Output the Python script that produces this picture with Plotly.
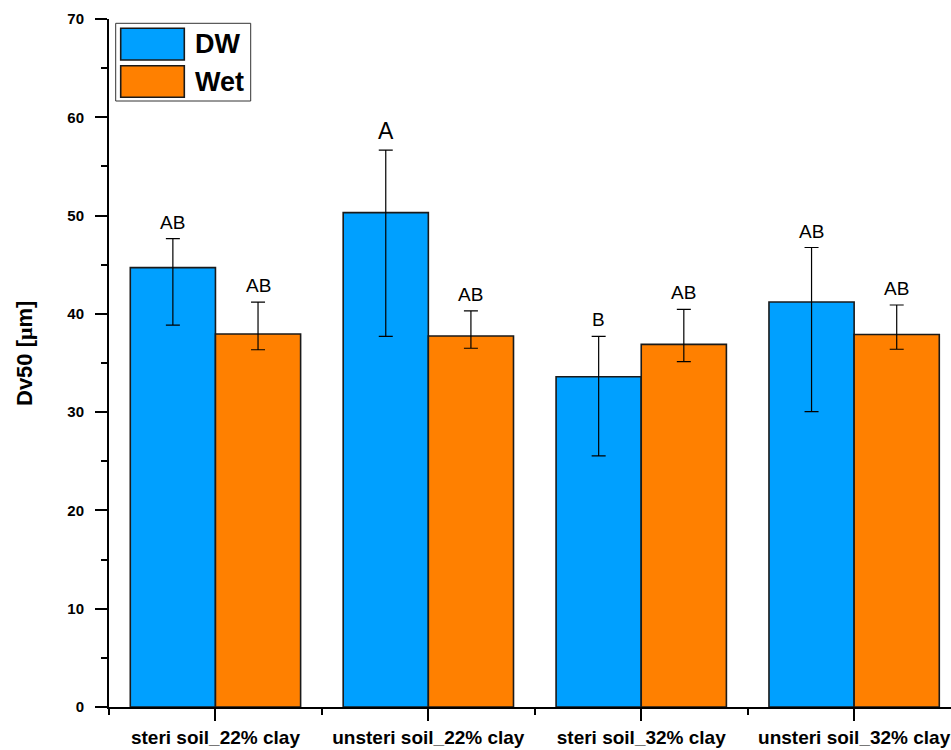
import plotly.graph_objects as go

# Dv50 grain size by soil treatment, dry-wet (DW) vs wet conditions
categories = ["steri soil_22% clay", "unsteri soil_22% clay",
              "steri soil_32% clay", "unsteri soil_32% clay"]

dw_mean = [44.7, 50.3, 33.6, 41.2]
dw_err_plus = [2.95, 6.35, 4.1, 5.55]
dw_err_minus = [5.85, 12.6, 8.05, 11.15]
dw_letters = ["AB", "A", "B", "AB"]

wet_mean = [37.95, 37.75, 36.9, 37.9]
wet_err_plus = [3.25, 2.55, 3.55, 3.0]
wet_err_minus = [1.6, 1.25, 1.75, 1.5]
wet_letters = ["AB", "AB", "AB", "AB"]

y_ticks = [0, 10, 20, 30, 40, 50, 60, 70]

BLUE = "#00A0FF"
ORANGE = "#FF8000"
FONT = "Arial, Liberation Sans, sans-serif"

W, H = 951, 750
M_L, M_R, M_T, M_B = 109, 0, 19, 43

x_idx = list(range(len(categories)))

fig = go.Figure()
for name, mean, ep, em, color in [
    ("DW", dw_mean, dw_err_plus, dw_err_minus, BLUE),
    ("Wet", wet_mean, wet_err_plus, wet_err_minus, ORANGE),
]:
    fig.add_trace(go.Bar(
        x=x_idx, y=mean, name=name,
        marker=dict(color=color, line=dict(color="#1a1a1a", width=1.6)),
        error_y=dict(type="data", symmetric=False, array=ep, arrayminus=em,
                     color="black", thickness=1.2, width=7),
        showlegend=False,
    ))

# significance letters above the error bars
bar_offset = 0.2
for i in x_idx:
    for shift, mean, ep, lab in [(-bar_offset, dw_mean[i], dw_err_plus[i], dw_letters[i]),
                                 (bar_offset, wet_mean[i], wet_err_plus[i], wet_letters[i])]:
        fig.add_annotation(
            x=i + shift, y=mean + ep, text=lab, showarrow=False,
            xanchor="center", yanchor="bottom", yshift=4,
            font=dict(family=FONT, size=23 if lab == "A" else 19, color="black"),
        )

# legend box drawn in pixel units converted to paper coordinates
PW = W - M_L - M_R
PH = H - M_T - M_B


def px(xp):
    return (xp - M_L) / PW


def py(yp):
    return (H - M_B - yp) / PH


fig.add_shape(type="rect", xref="paper", yref="paper",
              x0=px(115.7), x1=px(250.7), y0=py(101), y1=py(23.3),
              line=dict(color="#333333", width=1), fillcolor="white")
for (top, bot, color, label) in [(28.3, 60, BLUE, "DW"), (65.7, 97.3, ORANGE, "Wet")]:
    fig.add_shape(type="rect", xref="paper", yref="paper",
                  x0=px(120.7), x1=px(184.3), y0=py(bot), y1=py(top),
                  line=dict(color="#1a1a1a", width=1.6), fillcolor=color)
    fig.add_annotation(xref="paper", yref="paper", x=px(193), y=py((top + bot) / 2),
                       text=f"<b>{label}</b>", showarrow=False,
                       xanchor="left", yanchor="middle",
                       font=dict(family=FONT, size=27, color="black"))

# y-axis title placed as a rotated annotation
fig.add_annotation(xref="paper", yref="paper", x=px(24), y=py(354),
                   text="<b>Dv50 [<span style='font-family:Liberation Serif'>μ</span>m]</b>",
                   textangle=-90, showarrow=False, xanchor="center", yanchor="middle",
                   font=dict(family=FONT, size=22, color="black"))

fig.update_layout(
    width=W, height=H,
    margin=dict(l=M_L, r=M_R, t=M_T, b=M_B, pad=0),
    paper_bgcolor="white", plot_bgcolor="white",
    barmode="group", bargap=0.2, bargroupgap=0,
    font=dict(family=FONT, color="black"),
)

fig.update_xaxes(
    range=[-0.5, 3.455],
    tickmode="array", tickvals=x_idx, ticktext=[f"<b>{c}</b>" for c in categories],
    tickfont=dict(family=FONT, size=19, color="black"),
    showline=True, linecolor="black", linewidth=2,
    ticks="outside", ticklen=12, tickwidth=2, tickcolor="black",
    minor=dict(tickmode="linear", tick0=0.5, dtick=1, ticks="outside",
               ticklen=6, tickwidth=2, tickcolor="black"),
    showgrid=False, zeroline=False,
)

fig.update_yaxes(
    range=[0, 70],
    tickmode="array", tickvals=y_ticks, ticktext=[f"<b>{v}</b>" for v in y_ticks],
    tickfont=dict(family=FONT, size=15, color="black"),
    ticklabelstandoff=8,
    showline=True, linecolor="black", linewidth=2,
    ticks="outside", ticklen=12, tickwidth=2, tickcolor="black",
    minor=dict(tickmode="linear", tick0=5, dtick=10, ticks="outside",
               ticklen=6, tickwidth=2, tickcolor="black"),
    showgrid=False, zeroline=False,
)

fig.write_html("out.html")
